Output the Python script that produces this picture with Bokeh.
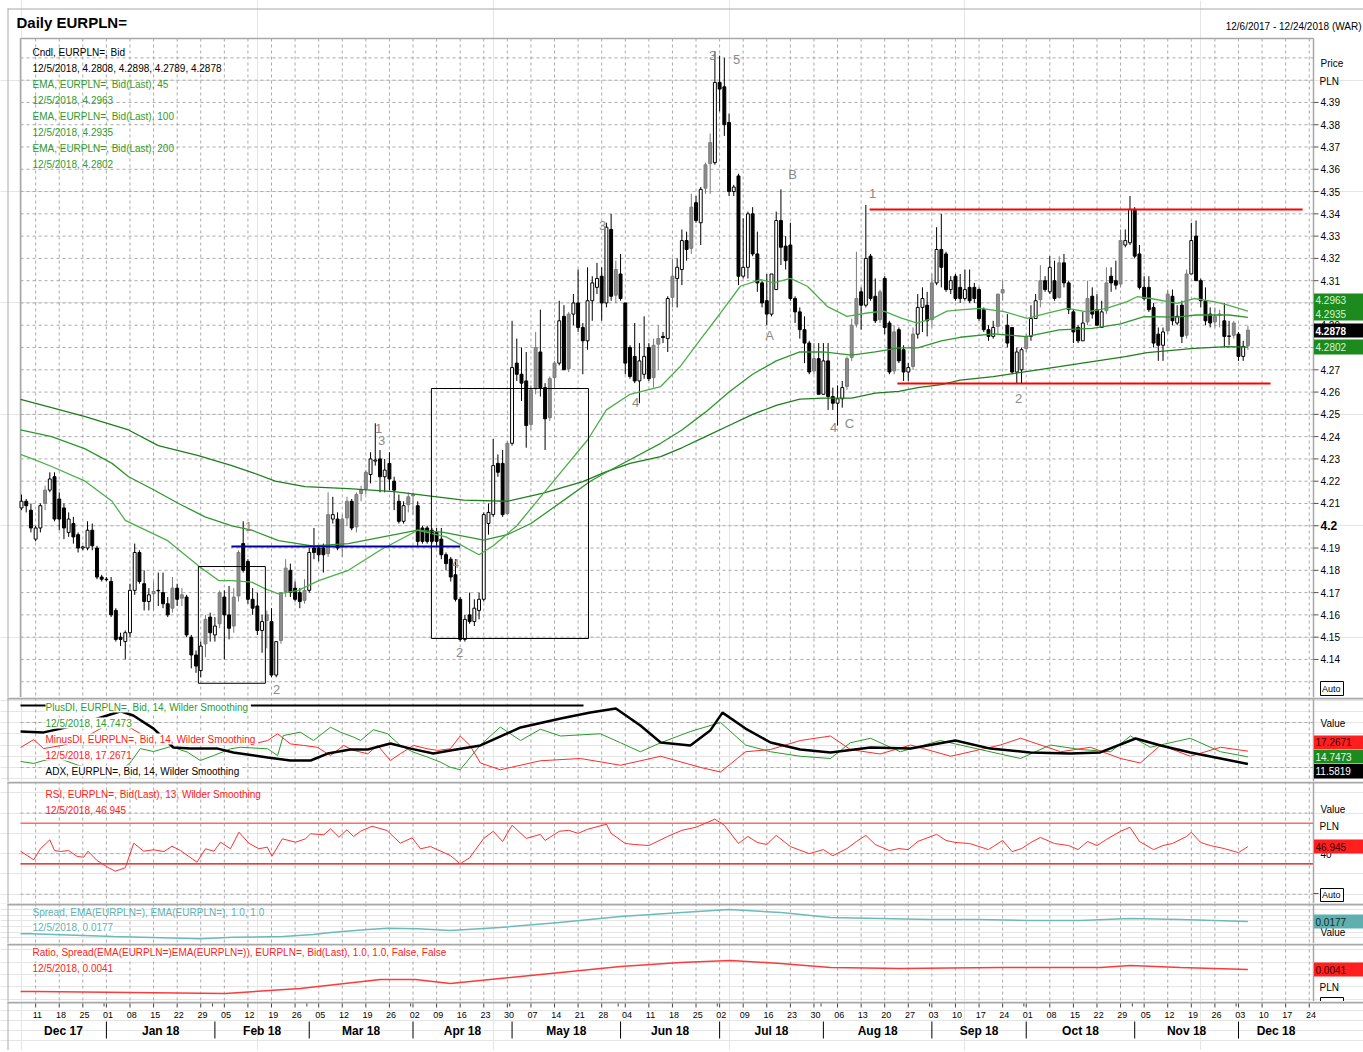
import pandas as pd
from bokeh.plotting import figure
from bokeh.layouts import column
from bokeh.models import Range1d, ColumnDataSource
from bokeh.embed import file_html
from bokeh.resources import INLINE
from bokeh.core.properties import value

FONT = "Liberation Sans"

# ------------------------------------------------------------------ data
first_day, last_day, axis_end = "2017-12-06", "2018-12-05", "2018-12-24"

opens = [4.208, 4.211, 4.207, 4.194, 4.199, 4.210, 4.216, 4.222, 4.212, 4.208,
         4.197, 4.201, 4.196, 4.190, 4.190, 4.198, 4.190, 4.177, 4.176, 4.175,
         4.162, 4.150, 4.148, 4.152, 4.171, 4.188, 4.174, 4.166, 4.1695, 4.171,
         4.170, 4.165, 4.163, 4.172, 4.1675, 4.168, 4.150, 4.142, 4.135, 4.147,
         4.159, 4.151, 4.156, 4.168, 4.160, 4.155, 4.1685, 4.192, 4.184, 4.167,
         4.164, 4.153, 4.1575, 4.157, 4.133, 4.1485, 4.1705, 4.180, 4.172, 4.170,
         4.1665, 4.171, 4.190, 4.190, 4.190, 4.1875, 4.203, 4.203, 4.1905, 4.2035,
         4.211, 4.1995, 4.2145, 4.2165, 4.223, 4.229, 4.230, 4.222, 4.228, 4.220,
         4.211, 4.202, 4.2095, 4.2135, 4.209, 4.199, 4.199, 4.198, 4.197, 4.194,
         4.187, 4.185, 4.178, 4.167, 4.149, 4.160, 4.157, 4.162, 4.167, 4.201,
         4.205, 4.228, 4.228, 4.2055, 4.237, 4.273, 4.268, 4.265, 4.2455, 4.2615,
         4.278, 4.262, 4.2485, 4.2665, 4.273, 4.294, 4.2705, 4.295, 4.300, 4.289,
         4.283, 4.301, 4.307, 4.312, 4.300, 4.333, 4.3035, 4.313, 4.300, 4.280,
         4.276, 4.265, 4.268, 4.280, 4.2665, 4.2815, 4.285, 4.284, 4.3025, 4.311,
         4.315, 4.328, 4.3245, 4.345, 4.336, 4.3515, 4.3625, 4.363, 4.399, 4.397,
         4.381, 4.350, 4.357, 4.312, 4.316, 4.340, 4.322, 4.309, 4.301, 4.295,
         4.306, 4.337, 4.3255, 4.326, 4.302, 4.296, 4.288, 4.282, 4.2695, 4.275,
         4.259, 4.274, 4.258, 4.255, 4.257, 4.2625, 4.2755, 4.2905, 4.305, 4.299,
         4.321, 4.303, 4.2925, 4.311, 4.291, 4.2695, 4.288, 4.279, 4.269, 4.2715,
         4.286, 4.298, 4.299, 4.2925, 4.309, 4.324, 4.322, 4.306, 4.312, 4.307,
         4.302, 4.307, 4.307, 4.306, 4.297, 4.288, 4.285, 4.2895, 4.3045, 4.290,
         4.289, 4.269, 4.270, 4.2795, 4.285, 4.293, 4.3015, 4.310, 4.305, 4.310,
         4.3025, 4.318, 4.309, 4.296, 4.289, 4.283, 4.2915, 4.303, 4.297, 4.289,
         4.2965, 4.312, 4.310, 4.3085, 4.326, 4.327, 4.342, 4.322, 4.307, 4.307,
         4.298, 4.286, 4.281, 4.2875, 4.303, 4.291, 4.299, 4.2855, 4.313, 4.330,
         4.310, 4.301, 4.295, 4.2915, 4.2945, 4.292, 4.285, 4.2855, 4.286, 4.276,
         4.2808]
highs = [4.214, 4.212, 4.210, 4.200, 4.210, 4.218, 4.224, 4.224, 4.215, 4.210,
         4.206, 4.204, 4.197, 4.191, 4.202, 4.201, 4.191, 4.178, 4.177, 4.177,
         4.163, 4.152, 4.153, 4.174, 4.192, 4.189, 4.180, 4.172, 4.175, 4.179,
         4.179, 4.168, 4.177, 4.174, 4.172, 4.169, 4.151, 4.144, 4.148, 4.160,
         4.161, 4.159, 4.171, 4.171, 4.173, 4.172, 4.189, 4.202, 4.185, 4.172,
         4.170, 4.160, 4.162, 4.163, 4.148, 4.170, 4.185, 4.183, 4.175, 4.172,
         4.176, 4.190, 4.199, 4.191, 4.192, 4.215, 4.213, 4.206, 4.205, 4.213,
         4.212, 4.215, 4.218, 4.225, 4.233, 4.246, 4.234, 4.230, 4.233, 4.222,
         4.214, 4.211, 4.215, 4.215, 4.211, 4.200, 4.200, 4.199, 4.199, 4.199,
         4.188, 4.186, 4.185, 4.168, 4.160, 4.170, 4.167, 4.170, 4.206, 4.210,
         4.239, 4.232, 4.234, 4.238, 4.292, 4.284, 4.280, 4.278, 4.263, 4.287,
         4.297, 4.264, 4.267, 4.274, 4.301, 4.299, 4.296, 4.304, 4.315, 4.291,
         4.316, 4.312, 4.318, 4.316, 4.336, 4.340, 4.319, 4.322, 4.300, 4.281,
         4.291, 4.282, 4.294, 4.282, 4.284, 4.290, 4.287, 4.303, 4.320, 4.320,
         4.333, 4.332, 4.349, 4.348, 4.352, 4.363, 4.376, 4.413, 4.411, 4.410,
         4.385, 4.353, 4.358, 4.338, 4.341, 4.343, 4.332, 4.310, 4.313, 4.313,
         4.341, 4.351, 4.330, 4.336, 4.303, 4.298, 4.294, 4.283, 4.282, 4.282,
         4.282, 4.282, 4.262, 4.263, 4.265, 4.276, 4.293, 4.323, 4.307, 4.344,
         4.322, 4.311, 4.306, 4.312, 4.292, 4.290, 4.289, 4.281, 4.273, 4.289,
         4.304, 4.307, 4.305, 4.313, 4.334, 4.340, 4.323, 4.312, 4.313, 4.313,
         4.315, 4.315, 4.309, 4.307, 4.298, 4.290, 4.292, 4.304, 4.310, 4.295,
         4.289, 4.280, 4.280, 4.286, 4.299, 4.304, 4.317, 4.312, 4.321, 4.319,
         4.321, 4.322, 4.310, 4.297, 4.290, 4.296, 4.310, 4.307, 4.304, 4.301,
         4.316, 4.316, 4.319, 4.333, 4.333, 4.348, 4.343, 4.326, 4.312, 4.312,
         4.300, 4.289, 4.289, 4.306, 4.306, 4.299, 4.301, 4.315, 4.336, 4.337,
         4.311, 4.307, 4.298, 4.298, 4.297, 4.300, 4.292, 4.292, 4.287, 4.283,
         4.2898]
lows = [4.207, 4.206, 4.197, 4.193, 4.197, 4.207, 4.215, 4.202, 4.198, 4.194,
        4.195, 4.192, 4.188, 4.189, 4.189, 4.189, 4.176, 4.175, 4.175, 4.159,
        4.148, 4.146, 4.140, 4.150, 4.169, 4.174, 4.162, 4.162, 4.162, 4.164,
        4.163, 4.159, 4.161, 4.164, 4.164, 4.150, 4.136, 4.134, 4.132, 4.141,
        4.148, 4.148, 4.154, 4.140, 4.149, 4.152, 4.166, 4.179, 4.165, 4.160,
        4.151, 4.143, 4.145, 4.132, 4.132, 4.147, 4.168, 4.168, 4.166, 4.163,
        4.165, 4.170, 4.185, 4.184, 4.179, 4.186, 4.201, 4.189, 4.186, 4.200,
        4.198, 4.197, 4.211, 4.214, 4.219, 4.227, 4.215, 4.215, 4.216, 4.207,
        4.201, 4.201, 4.206, 4.205, 4.191, 4.192, 4.192, 4.192, 4.191, 4.185,
        4.180, 4.175, 4.166, 4.148, 4.148, 4.156, 4.155, 4.158, 4.166, 4.196,
        4.204, 4.222, 4.204, 4.205, 4.236, 4.265, 4.256, 4.235, 4.243, 4.259,
        4.258, 4.234, 4.247, 4.262, 4.272, 4.270, 4.269, 4.290, 4.287, 4.268,
        4.279, 4.292, 4.304, 4.292, 4.298, 4.301, 4.300, 4.301, 4.268, 4.266,
        4.264, 4.255, 4.266, 4.265, 4.262, 4.270, 4.282, 4.278, 4.298, 4.298,
        4.308, 4.319, 4.322, 4.336, 4.326, 4.349, 4.349, 4.362, 4.386, 4.375,
        4.348, 4.348, 4.308, 4.311, 4.311, 4.321, 4.305, 4.298, 4.290, 4.294,
        4.306, 4.317, 4.315, 4.301, 4.291, 4.284, 4.273, 4.268, 4.268, 4.259,
        4.259, 4.252, 4.252, 4.245, 4.253, 4.261, 4.274, 4.289, 4.288, 4.298,
        4.301, 4.291, 4.291, 4.286, 4.268, 4.268, 4.273, 4.265, 4.265, 4.270,
        4.284, 4.287, 4.285, 4.289, 4.308, 4.307, 4.305, 4.304, 4.301, 4.300,
        4.301, 4.300, 4.300, 4.292, 4.287, 4.283, 4.284, 4.286, 4.301, 4.280,
        4.268, 4.264, 4.264, 4.278, 4.283, 4.293, 4.298, 4.305, 4.304, 4.301,
        4.302, 4.307, 4.295, 4.282, 4.282, 4.283, 4.290, 4.293, 4.290, 4.289,
        4.295, 4.305, 4.306, 4.307, 4.325, 4.326, 4.320, 4.306, 4.301, 4.296,
        4.280, 4.274, 4.274, 4.286, 4.290, 4.290, 4.282, 4.284, 4.313, 4.310,
        4.298, 4.290, 4.289, 4.289, 4.289, 4.280, 4.281, 4.284, 4.274, 4.274,
        4.2789]
closes = [4.211, 4.209, 4.199, 4.199, 4.209, 4.216, 4.221, 4.203, 4.203, 4.199,
          4.203, 4.195, 4.190, 4.1905, 4.198, 4.191, 4.177, 4.176, 4.1758, 4.160,
          4.149, 4.149, 4.152, 4.171, 4.188, 4.175, 4.166, 4.169, 4.1705, 4.1708,
          4.165, 4.160, 4.172, 4.167, 4.169, 4.151, 4.142, 4.137, 4.146, 4.158,
          4.152, 4.155, 4.170, 4.160, 4.154, 4.168, 4.188, 4.180, 4.167, 4.163,
          4.153, 4.157, 4.160, 4.133, 4.148, 4.170, 4.181, 4.170, 4.167, 4.166,
          4.171, 4.188, 4.188, 4.187, 4.187, 4.205, 4.205, 4.190, 4.203, 4.211,
          4.199, 4.214, 4.216, 4.224, 4.230, 4.2295, 4.222, 4.225, 4.221, 4.216,
          4.202, 4.209, 4.213, 4.214, 4.193, 4.193, 4.193, 4.193, 4.193, 4.187,
          4.183, 4.177, 4.167, 4.149, 4.158, 4.157, 4.163, 4.167, 4.205, 4.206,
          4.227, 4.224, 4.205, 4.237, 4.271, 4.268, 4.264, 4.245, 4.261, 4.280,
          4.262, 4.248, 4.266, 4.273, 4.292, 4.270, 4.295, 4.300, 4.289, 4.283,
          4.301, 4.309, 4.311, 4.300, 4.334, 4.303, 4.315, 4.302, 4.273, 4.267,
          4.265, 4.274, 4.276, 4.266, 4.281, 4.284, 4.2845, 4.302, 4.312, 4.316,
          4.328, 4.324, 4.343, 4.337, 4.351, 4.362, 4.372, 4.399, 4.396, 4.380,
          4.350, 4.352, 4.312, 4.316, 4.340, 4.322, 4.309, 4.300, 4.295, 4.313,
          4.337, 4.325, 4.319, 4.302, 4.296, 4.288, 4.282, 4.269, 4.275, 4.259,
          4.274, 4.258, 4.255, 4.257, 4.262, 4.275, 4.290, 4.302, 4.299, 4.320,
          4.302, 4.292, 4.305, 4.289, 4.269, 4.287, 4.274, 4.269, 4.271, 4.286,
          4.298, 4.302, 4.292, 4.309, 4.324, 4.316, 4.306, 4.310, 4.302, 4.302,
          4.306, 4.301, 4.302, 4.293, 4.288, 4.285, 4.289, 4.304, 4.306, 4.282,
          4.269, 4.278, 4.279, 4.285, 4.293, 4.301, 4.310, 4.306, 4.316, 4.302,
          4.318, 4.309, 4.297, 4.287, 4.283, 4.291, 4.302, 4.295, 4.290, 4.296,
          4.309, 4.309, 4.308, 4.328, 4.328, 4.342, 4.321, 4.307, 4.302, 4.297,
          4.282, 4.281, 4.287, 4.304, 4.292, 4.294, 4.285, 4.313, 4.328, 4.310,
          4.301, 4.292, 4.291, 4.294, 4.295, 4.285, 4.2852, 4.291, 4.276, 4.2805,
          4.2878]

# EMA read points (trading-day index, value)
ema45_x = [-0.2, 3, 6.4, 13.5, 19.2, 22, 25, 31, 37.5, 41.8, 44.6, 48.8, 51.7, 54.5, 58.7, 63,
           69.3, 76, 84, 90, 97, 100, 105, 112, 120, 124, 129, 135.5, 139.7, 143.9, 148.2,
           152.4, 156.7, 159.5, 163, 166.6, 170.8, 175, 179.3, 182.8, 186.4, 189.9, 193.4,
           196.2, 199, 203.3, 208.3, 213.2, 217.5, 221.7, 225.9, 230, 234.4, 236.5, 239.4,
           245, 248.6, 252.8, 255.6, 260]
ema45_y = [4.232, 4.2295, 4.2266, 4.220, 4.211, 4.2024, 4.1994, 4.1933, 4.182, 4.1754, 4.1754,
           4.1747, 4.1717, 4.1694, 4.171, 4.1754, 4.180, 4.189, 4.198, 4.195, 4.187, 4.191,
           4.200, 4.218, 4.2385, 4.252, 4.259, 4.2625, 4.2716, 4.2835, 4.2955, 4.3075, 4.3105,
           4.309, 4.311, 4.3075, 4.2985, 4.294, 4.2955, 4.2963, 4.2933, 4.291, 4.2933, 4.2963,
           4.2969, 4.2976, 4.2961, 4.2931, 4.2954, 4.2976, 4.296, 4.2976, 4.3006, 4.3028,
           4.302, 4.2998, 4.302, 4.3006, 4.2991, 4.2963]
ema100_x = [-0.2, 6.4, 13.5, 19.2, 22.7, 27.6, 33.3, 38.9, 44.6, 48.8, 54.5, 61.6, 69.3, 84,
            89.5, 98, 103, 108, 115, 120.6, 124, 135.5, 140, 145, 150, 155, 160, 165, 170,
            176, 181, 186, 190, 195, 199, 206, 213, 220, 227, 233, 238, 245, 249, 256, 260]
ema100_y = [4.243, 4.240, 4.2345, 4.228, 4.222, 4.2166, 4.210, 4.204, 4.200, 4.198, 4.1933,
            4.191, 4.192, 4.198, 4.197, 4.1936, 4.196, 4.201, 4.2115, 4.220, 4.224, 4.237,
            4.243, 4.251, 4.260, 4.268, 4.274, 4.278, 4.278, 4.2766, 4.278, 4.2798, 4.2798,
            4.283, 4.2846, 4.2861, 4.2849, 4.2879, 4.2886, 4.2906, 4.2939, 4.2936, 4.2946,
            4.2946, 4.2935]
ema200_x = [-0.2, 6.4, 13.5, 22.7, 29, 37.5, 44.6, 48.8, 53.8, 60.1, 69.3, 79, 93.7, 103,
            110.6, 119, 124, 129, 135.5, 140, 145, 150, 155, 160, 165, 170, 176, 181, 186,
            190, 195, 199, 206, 213, 220, 227, 234, 238.6, 248.6, 255.6, 260]
ema200_y = [4.2567, 4.253, 4.249, 4.243, 4.236, 4.2315, 4.227, 4.224, 4.220, 4.2176, 4.2167,
            4.2153, 4.2115, 4.211, 4.2146, 4.2198, 4.2243, 4.228, 4.231, 4.235, 4.240, 4.245,
            4.250, 4.254, 4.2568, 4.2573, 4.2573, 4.2595, 4.2603, 4.262, 4.2633, 4.2654,
            4.2669, 4.2692, 4.2714, 4.2737, 4.2759, 4.2777, 4.2796, 4.2804, 4.2802]

plusdi_x = [-0.2, 2.6, 4.7, 8, 12, 16, 20, 23, 25.2, 28, 31.6, 35.2, 37.9, 40.7, 44.3, 46.4,
            52.2, 54.3, 55.5, 59.1, 61.9, 65.5, 67.6, 70.4, 71.9, 74.6, 77.6, 80.3, 83.1, 86.1,
            88.8, 90.9, 93, 97.3, 101.5, 105.8, 110, 114.3, 122.7, 127, 131.2, 135.5, 141.8,
            148.2, 153.5, 158.8, 165.1, 171.5, 175.7, 180, 186.3, 194.8, 199, 207.5, 211.8,
            218.1, 224.5, 230.9, 235.1, 239.3, 247.8, 254.2, 260]
plusdi_y = [12.7, 11.8, 13.1, 14, 11, 9, 7, 12, 18.4, 17.1, 19.3, 16.8, 13.1, 15.3, 18.3, 19,
            18.3, 15.3, 24.2, 25.7, 22, 27.9, 25.7, 23.5, 22, 26.8, 25, 19.8, 16.8, 14.6, 12.4,
            10.1, 9, 20, 28, 22, 27, 24, 25, 21, 17, 21, 26, 30, 20, 17, 15, 14, 21, 23, 17, 22,
            20, 16, 14, 20, 18, 17, 24, 19, 23, 17, 14.7473]
minusdi_x = [-0.2, 2.6, 4.7, 9, 14, 19, 22, 26, 30, 35, 40, 46.4, 49.2, 52.2, 54.3, 57, 59.8,
             62.7, 65.5, 68.3, 70.4, 73.4, 75.5, 78.2, 80.3, 83.1, 86.1, 88.2, 90.9, 93, 95,
             97.3, 101.5, 110, 118.5, 127, 135.5, 144, 148.2, 153.5, 158.8, 165.1, 171.5,
             175.7, 182, 188.5, 197, 207.5, 211.8, 220.3, 226.6, 233, 237.2, 241.5, 247.8,
             254.2, 260]
minusdi_y = [18.9, 22.4, 18.4, 20, 24, 30, 29, 24, 22, 24, 22, 22, 20.5, 22, 25, 20.5, 19.8,
             19, 15.3, 19.8, 17.6, 16.1, 19.8, 13.1, 16.1, 19.8, 18.3, 17.6, 18.3, 24, 20, 12,
             9, 13, 14, 11, 15, 10, 8, 17, 18, 22, 24, 18, 16, 20, 15, 20, 23, 17, 19, 14, 12,
             20, 15, 19, 17.2671]
adx_x = [-0.2, 4.7, 12, 18, 21, 23.7, 28, 32.2, 35.8, 41.6, 44.9, 52.2, 57, 61.3, 64.9, 69.7,
         73.4, 78.2, 82.5, 87.3, 90.9, 97.3, 105.8, 114.3, 120.6, 126, 131.2, 135.5, 141.8, 146,
         148.6, 153.5, 158.8, 165.1, 171.5, 180, 188.5, 198, 205.4, 213.9, 222.4, 228.7, 236.2,
         241.5, 247.8, 254.2, 260]
adx_y = [26, 25.6, 29, 33, 35, 33.1, 27.3, 18.9, 18.4, 18.4, 16.7, 14.4, 13.1, 13.1, 16.2, 18,
         18, 20.7, 18.4, 16.2, 17.6, 19.8, 27.8, 31.8, 34.4, 36.2, 28.7, 21.1, 19.8, 26.4, 34.4,
         27.3, 21.1, 18, 16.7, 18.9, 18.4, 22, 18.4, 16.7, 16.2, 16.7, 22.9, 19.8, 16.7, 14,
         11.5819]

rsi_x = [-0.2, 2.6, 4.0, 6.0, 7.0, 8.3, 10.0, 11.8, 13.2, 14.1, 16.0, 18.2, 19.9, 22.0, 23.8,
         25.9, 28.0, 30.2, 31.9, 33.7, 36.2, 37.2, 39.0, 40.8, 42.2, 44.3, 46.1, 48.2, 50.3,
         52.1, 53.1, 55.3, 58.1, 60.2, 61.3, 64.1, 65.5, 67.3, 69.0, 70.4, 71.9, 74.3, 77.5,
         80.3, 82.8, 84.6, 86.7, 90.9, 93, 95, 98, 100, 102, 104, 107, 110, 111, 114, 116, 118,
         120, 124, 125, 128, 130, 133, 137, 140, 143, 147, 149, 152, 154, 156, 158, 160, 163,
         167, 170, 172, 175, 177, 179, 181, 184, 186, 188, 190, 194, 196, 198, 201, 203, 205,
         208, 210, 212, 214, 216, 219, 222, 224, 226, 228, 230, 233, 235, 237, 240, 242, 244,
         247, 248, 250, 252, 255, 258, 260]
rsi_y = [42.4, 33.9, 44.8, 53.6, 43.1, 42.1, 43.1, 37.2, 36.5, 42.4, 33.3, 26.7, 22.7, 26.1,
         50.3, 42.4, 43.8, 42.1, 47.3, 43.1, 34.9, 31.6, 44.8, 42.4, 51.3, 44.8, 61.1, 50.3,
         44.8, 46.4, 37.5, 54.6, 51.3, 54.6, 59.6, 58.6, 64.5, 56.2, 63.5, 56.9, 62.1, 67.0,
         62.8, 50.3, 55.6, 44.8, 47.0, 38.2, 30, 36, 55, 62, 52, 68, 55, 59, 53, 62, 63, 60,
         64, 69, 60, 50, 49, 48, 57, 63, 66, 74, 68, 50, 57, 51, 49, 58, 47, 40, 44, 38, 45,
         52, 58, 49, 43, 45, 44, 52, 59, 53, 51, 50, 47, 44, 53, 42, 45, 51, 56, 50, 48, 44,
         52, 48, 54, 62, 66, 52, 44, 48, 50, 57, 61, 51, 48, 45, 41, 46.945]

spread_x = [-0.2, 1.9, 19.5, 37.9, 44.9, 55.5, 61.9, 66.1, 73.4, 77.6, 84, 90.9, 101.5, 114,
            127, 140, 150, 161, 171.5, 182, 192.7, 203, 214, 224.5, 235, 245.7, 260]
spread_y = [-0.0261, -0.0261, -0.0357, -0.0439, -0.0382, -0.0357, -0.0286, -0.0204, -0.0108,
            -0.0061, -0.0083, -0.0143, -0.0037, 0.0141, 0.0355, 0.0497, 0.060, 0.0497, 0.032,
            0.0284, 0.0248, 0.0248, 0.0213, 0.0213, 0.0284, 0.0248, 0.0177]
ratio_x = [-0.2, 3, 43.2, 59.1, 76.1, 83.5, 90.9, 101.5, 114.3, 127, 139.7, 150.3, 160.9,
           171.5, 186.3, 207.5, 228.7, 235.1, 245.7, 260]
ratio_y = [-0.0137, -0.0137, -0.0153, -0.0113, -0.0040, -0.0040, -0.0072, -0.0032, 0.0017,
           0.0065, 0.0098, 0.0114, 0.0090, 0.0057, 0.0049, 0.0057, 0.0057, 0.0073, 0.0057,
           0.0041]

price_ticks = [4.14, 4.15, 4.16, 4.17, 4.18, 4.19, 4.20, 4.21, 4.22, 4.23, 4.24, 4.25, 4.26,
               4.27, 4.28, 4.29, 4.30, 4.31, 4.32, 4.33, 4.34, 4.35, 4.36, 4.37, 4.38, 4.39]
price_grid = [4.13] + price_ticks + [4.40, 4.41]

# ------------------------------------------------------------------ layout helpers
dates = pd.bdate_range(first_day, last_day)
n = len(dates)
axis_dates = pd.bdate_range(first_day, axis_end)
mondays = [k for k, d in enumerate(axis_dates) if d.weekday() == 0]
month_starts = [k for k in range(1, len(axis_dates)) if axis_dates[k].month != axis_dates[k - 1].month]

X0, DX = 21.0, 4.717


def ix(px):
    return (px - X0) / DX


XL, XR, XE = ix(20), ix(1313), ix(1363)


def P(y): return 4.27 + (369.3 - y) / 2228.0
def D(y): return 10 + (767.0 - y) / 2.25
def R(y): return 30 + (863.3 - y) / 1.015
def S(y): return 0.0177 + (921.0 - y) / 281.0
def Q(y): return 0.0041 + (969.0 - y) / 1234.0
def A(y): return y


xr = Range1d(ix(0), XE)
GRID = "#a9a9a9"
BORDER = "#a8a8a8"
GREEN_T = "#2f9b2f"


def panel(top, bottom, f):
    p = figure(width=1363, height=bottom - top, x_range=xr,
               y_range=Range1d(f(bottom), f(top)), output_backend="svg",
               toolbar_location=None, x_axis_location=None, y_axis_location=None,
               min_border=0, outline_line_color=None, background_fill_color="white",
               border_fill_color="white")
    return p


def seg(p, x0, y0, x1, y1, color, width=1.0, dash="solid"):
    p.segment(x0=[x0], y0=[y0], x1=[x1], y1=[y1], line_color=color, line_width=width,
              line_dash=dash)


def txt(p, xpx, yv, s, size=10, color="black", align="left", bold=False, bg=None):
    kw = {}
    if bg is not None:
        kw["background_fill_color"] = bg
    p.text(x=[ix(xpx)], y=[yv], text=[s], text_font=value(FONT),
           text_font_size=f"{size}px", text_color=color, text_align=align,
           text_baseline="middle", text_font_style="bold" if bold else "normal", **kw)


def vgrid(p, y0, y1):
    p.segment(x0=mondays, y0=[y0] * len(mondays), x1=mondays, y1=[y1] * len(mondays),
              line_color=GRID, line_width=1, line_dash="3 3")


def hgrid(p, vals):
    p.segment(x0=[XL] * len(vals), y0=vals, x1=[XR] * len(vals), y1=vals,
              line_color=GRID, line_width=1, line_dash="3 3")


def frame(p, top, bottom, f, sep=True):
    if sep:
        seg(p, ix(7), f(top + 1), XE, f(top + 1), BORDER, 2)
    seg(p, XR, f(top), XR, f(bottom), BORDER, 1.5)
    seg(p, ix(7.5), f(top), ix(7.5), f(bottom), BORDER, 1)


def vbox(p, f, y0, y1, fill, s, tcolor, bold=False):
    p.quad(left=[ix(1313.5)], right=[XE], top=[f(y0)], bottom=[f(y1)], fill_color=fill,
           line_color=None)
    txt(p, 1315, f((y0 + y1) / 2.0), s, color=tcolor, bold=bold)


def autobox(p, f, y0, y1, label=True):
    p.quad(left=[ix(1320)], right=[ix(1343)], top=[f(y0)], bottom=[f(y1)],
           fill_color="white", line_color="black", line_width=1)
    if label:
        txt(p, 1321.5, f((y0 + y1) / 2.0), "Auto", size=9)


# ------------------------------------------------------------------ price panel
pp = panel(0, 697, P)
vgrid(pp, P(38), P(697))
hgrid(pp, price_grid)
seg(pp, ix(7), P(8.5), XE, P(8.5), BORDER, 1)
seg(pp, ix(7.5), P(8), ix(7.5), P(697), BORDER, 1)
seg(pp, XL, P(38), XR, P(38), BORDER, 1.5)
seg(pp, XL, P(38), XL, P(697), BORDER, 1.5)
seg(pp, XR, P(38), XR, P(697), BORDER, 1.5)

fills, lcols = [], []
for k in range(n):
    o, c = opens[k], closes[k]
    prev = closes[k - 1] if k else o
    if c < o:
        fills.append("black"); lcols.append("black")
    elif o > prev + 0.0002:
        fills.append("#8c8c8c"); lcols.append("#7a7a7a")
    else:
        fills.append("white"); lcols.append("black")
csrc = ColumnDataSource(dict(x=list(range(n)), o=opens, h=highs, l=lows, c=closes,
                             top=[max(a, b) for a, b in zip(opens, closes)],
                             bot=[min(a, b) for a, b in zip(opens, closes)],
                             fill=fills, lc=lcols))
pp.segment(x0="x", y0="l", x1="x", y1="h", line_color="lc", line_width=1, source=csrc)
pp.vbar(x="x", width=0.62, top="top", bottom="bot", fill_color="fill", line_color="lc",
        line_width=1, source=csrc)

pp.line(ema200_x, ema200_y, line_color="#1f7d1f", line_width=1.3)
pp.line(ema100_x, ema100_y, line_color="#2f962f", line_width=1.3)
pp.line(ema45_x, ema45_y, line_color="#4cae4c", line_width=1.3)

# drawn annotations
pp.quad(left=[37.5, 86.9], right=[51.7, 120.2], bottom=[4.1293, 4.1494], top=[4.1817, 4.2616],
        fill_color=None, line_color="black", line_width=1)
seg(pp, 44.5, 4.1907, 93.0, 4.1907, "#00009c", 2)
seg(pp, 179.8, 4.342, 271.6, 4.342, "#ff0000", 2)
seg(pp, 185.7, 4.2639, 264.8, 4.2639, "#ff0000", 2)

waves = [("1", 248, 526), ("2", 276, 689), ("1", 378, 428), ("3", 381, 440), ("4", 455, 563),
         ("2", 459, 652), ("3", 602, 225), ("4", 635, 402), ("3", 712, 55), ("5", 736, 59),
         ("B", 792, 174), ("A", 769, 335), ("1", 872, 193), ("4", 833, 427), ("C", 849, 423),
         ("2", 1018, 398)]
for s, xpx, ypx in waves:
    txt(pp, xpx, P(ypx), s, size=13, color="#8a8a8a", align="center")

# legend
d_last = f"{dates[-1].month}/{dates[-1].day}/{dates[-1].year}"
leg = [("Cndl, EURPLN=, Bid", "black"),
       (f"{d_last}, {opens[-1]:.4f}, {highs[-1]:.4f}, {lows[-1]:.4f}, {closes[-1]:.4f}", "black"),
       ("EMA, EURPLN=, Bid(Last),  45", GREEN_T), (f"{d_last}, {ema45_y[-1]:.4f}", GREEN_T),
       ("EMA, EURPLN=, Bid(Last),  100", GREEN_T), (f"{d_last}, {ema100_y[-1]:.4f}", GREEN_T),
       ("EMA, EURPLN=, Bid(Last),  200", GREEN_T), (f"{d_last}, {ema200_y[-1]:.4f}", GREEN_T)]
for k, (s, col) in enumerate(leg):
    txt(pp, 32, P(51.7 + 16 * k), s, color=col)

txt(pp, 16, P(22), "Daily EURPLN=", size=15, bold=True)
txt(pp, 1361, P(26), f"{dates[0].month}/{dates[0].day}/{dates[0].year} - 12/24/2018 (WAR)",
    size=10, align="right")

# right price axis
pp.segment(x0=[XR] * len(price_ticks), y0=price_ticks, x1=[ix(1318)] * len(price_ticks),
           y1=price_ticks, line_color="#555555", line_width=1)
for t in price_ticks:
    if abs(t - 4.20) < 1e-9:
        txt(pp, 1320, t, "4.2", size=12, bold=True)
    else:
        txt(pp, 1320, t, f"{t:.2f}", size=10)
txt(pp, 1320, P(63), "Price")
txt(pp, 1319, P(81), "PLN")
vbox(pp, P, 293, 306.5, "#1c8a1c", f"{ema45_y[-1]:.4f}", "#d6f5d6")
vbox(pp, P, 306.5, 320, "#1c8a1c", f"{ema100_y[-1]:.4f}", "#d6f5d6")
vbox(pp, P, 323, 337, "black", f"{closes[-1]:.4f}", "white", bold=True)
vbox(pp, P, 339, 354, "#1c8a1c", f"{ema200_y[-1]:.4f}", "#d6f5d6")
autobox(pp, P, 681, 695)

# ------------------------------------------------------------------ DI panel
dp = panel(697, 781, D)
vgrid(dp, D(697), D(781))
hgrid(dp, [10, 30])
seg(dp, XL, D(705), ix(583), D(705), "black", 2)
dp.line(plusdi_x, plusdi_y, line_color="#2a9a2a", line_width=1)
dp.line(minusdi_x, minusdi_y, line_color="#ff2a2a", line_width=1)
dp.line(adx_x, adx_y, line_color="black", line_width=2.5)
frame(dp, 697, 781, D)
di_leg = [("PlusDI, EURPLN=, Bid,  14, Wilder Smoothing", GREEN_T),
          (f"{d_last}, {plusdi_y[-1]:.4f}", GREEN_T),
          ("MinusDI, EURPLN=, Bid,  14, Wilder Smoothing", "#ff2020"),
          (f"{d_last}, {minusdi_y[-1]:.4f}", "#ff2020"),
          ("ADX, EURPLN=, Bid,  14, Wilder Smoothing", "black")]
for k, (s, col) in enumerate(di_leg):
    txt(dp, 45, D(706.5 + 16 * k), s, color=col, bg="white")
txt(dp, 1320, D(723), "Value")
vbox(dp, D, 735, 748.5, "#ff1f1f", f"{minusdi_y[-1]:.4f}", "#3a0000")
vbox(dp, D, 749, 763, "#1c8a1c", f"{plusdi_y[-1]:.4f}", "#e8ffe8")
vbox(dp, D, 763.5, 778, "black", f"{adx_y[-1]:.4f}", "white")

# ------------------------------------------------------------------ RSI panel
rp = panel(781, 903, R)
vgrid(rp, R(781), R(903))
hgrid(rp, [0, 40, 80])
seg(rp, XL, 70, XR, 70, "#ff6a6a", 1.6)
seg(rp, XL, 30, XR, 30, "#e00000", 1.3)
rp.line(rsi_x, rsi_y, line_color="#ff3030", line_width=1)
frame(rp, 781, 903, R)
txt(rp, 45, R(794), "RSI, EURPLN=, Bid(Last),  13, Wilder Smoothing", color="#ff2020")
txt(rp, 45, R(810), f"{d_last}, {rsi_y[-1]:.3f}", color="#ff2020")
txt(rp, 1320, R(809), "Value")
txt(rp, 1319, R(826), "PLN")
txt(rp, 1320, 40, "40")
vbox(rp, R, 839, 853, "#ff1f1f", f"{rsi_y[-1]:.3f}", "#3a0000")
seg(rp, XR, R(893), ix(1318), R(893), "#555555", 1)
autobox(rp, R, 888, 901)

# ------------------------------------------------------------------ spread panel
sp = panel(903, 943, S)
vgrid(sp, S(903), S(943))
sp.line(spread_x, spread_y, line_color="#6cbaba", line_width=1.5)
frame(sp, 903, 943, S)
txt(sp, 32, S(912), "Spread, EMA(EURPLN=), EMA(EURPLN=),  1.0, 1.0", color="#5fb1b1")
txt(sp, 32, S(927), f"{d_last}, {spread_y[-1]:.4f}", color="#5fb1b1", bg="white")
txt(sp, 1320, S(932), "Value")
vbox(sp, S, 914, 928, "#5fafaf", f"{spread_y[-1]:.4f}", "#0d2b2b")

# ------------------------------------------------------------------ ratio panel
qp = panel(943, 1001, Q)
vgrid(qp, Q(943), Q(1001))
qp.line(ratio_x, ratio_y, line_color="#ff3a3a", line_width=1.5)
frame(qp, 943, 1001, Q)
txt(qp, 32, Q(952), "Ratio, Spread(EMA(EURPLN=)EMA(EURPLN=)), EURPLN=, Bid(Last),  1.0, 1.0, False, False",
    color="#ff2020", bg="white")
txt(qp, 32, Q(968), f"{d_last}, {ratio_y[-1]:.4f}", color="#ff2020", bg="white")
vbox(qp, Q, 962, 976, "#ff1f1f", f"{ratio_y[-1]:.4f}", "#3a0000")
txt(qp, 1319, Q(987), "PLN")
autobox(qp, Q, 997, 1010, label=False)

# ------------------------------------------------------------------ date axis panel
ap = panel(1001, 1050, A)
seg(ap, ix(7), 1002, XE, 1002, BORDER, 2)
seg(ap, ix(7.5), 1001, ix(7.5), 1050, BORDER, 1)
ap.segment(x0=mondays, y0=[1003] * len(mondays), x1=mondays, y1=[1007] * len(mondays),
           line_color="#444444", line_width=1)
ap.segment(x0=[m - 0.5 for m in month_starts], y0=[1003] * len(month_starts),
           x1=[m - 0.5 for m in month_starts], y1=[1006] * len(month_starts),
           line_color="#444444", line_width=1)
ap.text(x=[m + 0.35 for m in mondays], y=[1014] * len(mondays),
        text=[axis_dates[m].strftime("%d") for m in mondays], text_font=value(FONT),
        text_font_size="9px", text_color="black", text_align="center", text_baseline="middle")
ap.segment(x0=month_starts, y0=[1021] * len(month_starts), x1=month_starts,
           y1=[1038] * len(month_starts), line_color="black", line_width=1)
bounds = [XL] + month_starts + [XR]
labels = [axis_dates[0].strftime("%b %y")] + [axis_dates[m].strftime("%b %y") for m in month_starts]
ap.text(x=[(bounds[k] + bounds[k + 1]) / 2.0 for k in range(len(labels))],
        y=[1030] * len(labels), text=labels, text_font=value(FONT), text_font_size="12px",
        text_font_style="bold", text_color="black", text_align="center",
        text_baseline="middle")

layout = column(pp, dp, rp, sp, qp, ap, spacing=0)
open("out.html", "w").write(file_html(layout, INLINE, "Daily EURPLN="))
